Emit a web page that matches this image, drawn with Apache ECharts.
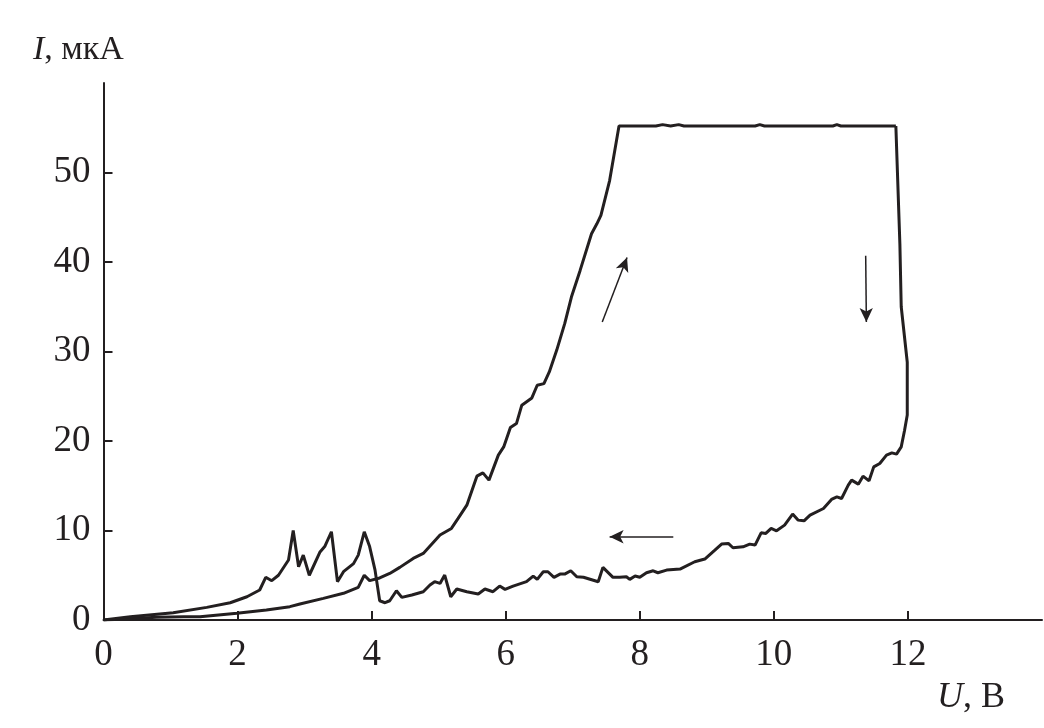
<!DOCTYPE html>
<html>
<head>
<meta charset="utf-8">
<script src="https://cdn.jsdelivr.net/npm/echarts@6/dist/echarts.min.js"></script>
<style>
html,body{margin:0;padding:0;background:#fff;}
#chart{width:1044px;height:728px;}
</style>
</head>
<body>
<div id="chart"></div>
<script>
// Forward sweep (voltage increasing)
const upU = [0, 0.4, 0.79, 1.2, 1.44, 1.99, 2.43, 2.78, 2.93, 3.28, 3.58, 3.80, 3.89, 3.97, 4.12, 4.27, 4.42, 4.62, 4.77, 5.02, 5.19, 5.29, 5.42, 5.57, 5.66, 5.75, 5.89, 5.97, 6.07, 6.16, 6.24, 6.39, 6.47, 6.57, 6.65, 6.76, 6.88, 6.98, 7.11, 7.28, 7.36, 7.42, 7.55, 7.69, 8.24, 8.34, 8.46, 8.58, 8.66, 8.76, 9.72, 9.79, 9.86, 10.88, 10.94, 11.0, 11.82];
const upI = [0, 0.15, 0.3, 0.35, 0.37, 0.75, 1.12, 1.49, 1.79, 2.42, 2.98, 3.65, 5.0, 4.4, 4.7, 5.2, 5.88, 6.88, 7.44, 9.49, 10.23, 11.35, 12.83, 16.07, 16.44, 15.63, 18.42, 19.34, 21.5, 21.95, 24.0, 24.81, 26.23, 26.41, 27.71, 30.13, 33.11, 36.08, 39.06, 43.16, 44.27, 45.2, 49.1, 55.2, 55.2, 55.35, 55.2, 55.35, 55.2, 55.2, 55.2, 55.35, 55.2, 55.2, 55.35, 55.2, 55.2];
// Reverse sweep (voltage decreasing)
const downU = [11.82, 11.88, 11.90, 11.99, 11.99, 11.95, 11.90, 11.83, 11.76, 11.68, 11.58, 11.49, 11.42, 11.33, 11.26, 11.16, 11.11, 11.01, 10.94, 10.86, 10.74, 10.54, 10.45, 10.36, 10.28, 10.16, 10.04, 9.96, 9.88, 9.81, 9.72, 9.64, 9.54, 9.39, 9.32, 9.22, 9.12, 8.97, 8.82, 8.60, 8.40, 8.27, 8.20, 8.10, 8.00, 7.93, 7.85, 7.80, 7.70, 7.60, 7.45, 7.38, 7.16, 7.06, 6.97, 6.88, 6.81, 6.72, 6.63, 6.56, 6.47, 6.41, 6.31, 6.11, 5.99, 5.91, 5.81, 5.69, 5.59, 5.42, 5.27, 5.18, 5.09, 5.02, 4.94, 4.87, 4.77, 4.60, 4.45, 4.37, 4.27, 4.20, 4.12, 4.05, 3.97, 3.89, 3.80, 3.73, 3.58, 3.49, 3.40, 3.30, 3.23, 3.07, 2.98, 2.91, 2.83, 2.76, 2.61, 2.51, 2.42, 2.33, 2.14, 1.89, 1.54, 1.04, 0.40, 0];
const downI = [55.2, 42.0, 35.0, 28.8, 22.9, 21.2, 19.34, 18.53, 18.67, 18.42, 17.49, 17.11, 15.55, 16.07, 15.18, 15.63, 15.07, 13.58, 13.76, 13.47, 12.46, 11.72, 11.08, 11.16, 11.83, 10.6, 9.97, 10.23, 9.67, 9.74, 8.37, 8.48, 8.18, 8.07, 8.56, 8.48, 7.81, 6.81, 6.51, 5.69, 5.58, 5.28, 5.5, 5.28, 4.77, 4.91, 4.54, 4.83, 4.77, 4.77, 5.88, 4.28, 4.77, 4.83, 5.5, 5.13, 5.13, 4.77, 5.39, 5.39, 4.54, 4.91, 4.28, 3.79, 3.42, 3.79, 3.16, 3.46, 2.9, 3.16, 3.46, 2.6, 5.02, 4.09, 4.28, 3.91, 3.16, 2.79, 2.53, 3.27, 2.15, 1.93, 2.15, 5.6, 8.2, 9.86, 7.25, 6.3, 5.4, 4.28, 9.86, 8.2, 7.6, 5.0, 7.25, 5.95, 10.0, 6.7, 5.0, 4.39, 4.77, 3.35, 2.6, 1.93, 1.41, 0.82, 0.37, 0];
// Direction arrows: [tailU, tailI, headU, headI]
const arrowUp = [7.44, 33.3, 7.81, 40.5];
const arrowDown = [11.37, 40.7, 11.38, 33.3];
const arrowLeft = [8.50, 9.3, 7.55, 9.3];
// Axis ticks
const xTicks = [2, 4, 6, 8, 10, 12];
const xLabels = [0, 2, 4, 6, 8, 10, 12];
const yTicks = [10, 20, 30, 40, 50];
const yLabels = [0, 10, 20, 30, 40, 50];

const zip = (a, b) => a.map((v, i) => [v, b[i]]);
const arrowLine = a => [{coord: [a[0], a[1]]}, {coord: [a[2], a[3]]}];

const ink = '#231f20';
const font = 'Liberation Serif';
const chart = echarts.init(document.getElementById('chart'), null, {renderer: 'canvas'});
chart.setOption({
  animation: false,
  backgroundColor: '#fff',
  grid: {left: 103.5, right: 2, top: 83, bottom: 108, containLabel: false},
  xAxis: {
    type: 'value', min: 0, max: 14,
    axisLine: {show: true, onZero: false, lineStyle: {color: ink, width: 2}},
    axisTick: {show: true, inside: true, length: 9, customValues: xTicks, lineStyle: {color: ink, width: 2}},
    axisLabel: {customValues: xLabels, color: ink, fontFamily: font, fontSize: 37, margin: 17},
    splitLine: {show: false}
  },
  yAxis: {
    type: 'value', min: 0, max: 60,
    axisLine: {show: true, onZero: false, lineStyle: {color: ink, width: 2}},
    axisTick: {show: true, inside: true, length: 9, customValues: yTicks, lineStyle: {color: ink, width: 2}},
    axisLabel: {customValues: yLabels, color: ink, fontFamily: font, fontSize: 37, margin: 13},
    splitLine: {show: false}
  },
  graphic: [
    {type: 'text', left: 33, top: 33, style: {
      text: '{i|I}, мкА', fill: ink, font: '34px "Liberation Serif"',
      rich: {i: {fontStyle: 'italic', fontFamily: font, fontSize: 34, fill: ink}}
    }},
    {type: 'text', left: 937, top: 680, style: {
      text: '{i|U}, В', fill: ink, font: '36px "Liberation Serif"',
      rich: {i: {fontStyle: 'italic', fontFamily: font, fontSize: 36, fill: ink}}
    }}
  ],
  series: [
    {
      type: 'line', data: zip(upU, upI), showSymbol: false, smooth: false,
      lineStyle: {color: ink, width: 3}, z: 3,
      markLine: {
        silent: true, symbol: ['none', 'arrow'], symbolSize: [10, 14], precision: 3,
        label: {show: false},
        lineStyle: {color: ink, width: 1.5, type: 'solid'},
        data: [arrowLine(arrowUp), arrowLine(arrowDown), arrowLine(arrowLeft)]
      }
    },
    {
      type: 'line', data: zip(downU, downI), showSymbol: false, smooth: false,
      lineStyle: {color: ink, width: 3}, z: 3
    }
  ]
});
</script>
</body>
</html>
